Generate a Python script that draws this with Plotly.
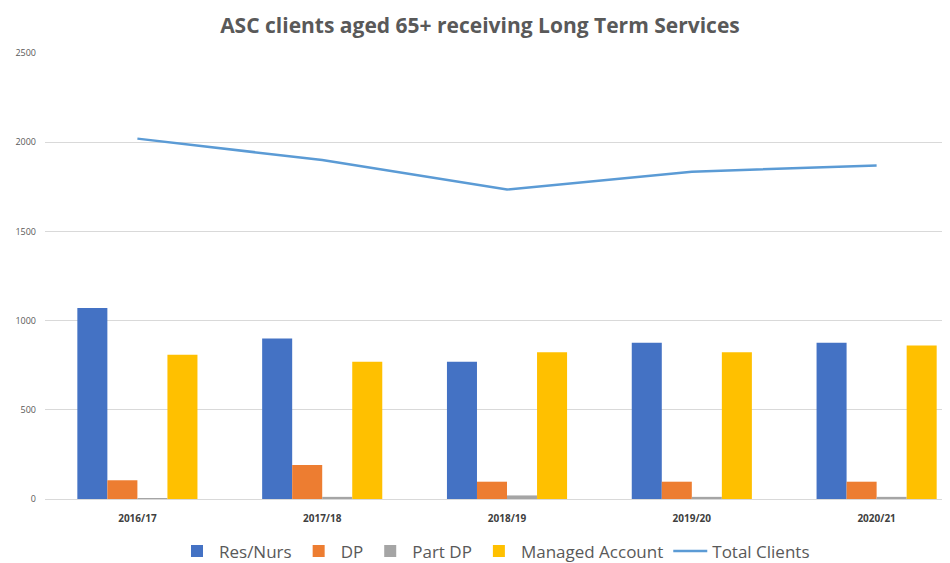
import plotly.graph_objects as go

years = ["2016/17", "2017/18", "2018/19", "2019/20", "2020/21"]
res_nurs = [1070, 900, 770, 876, 876]
dp = [105, 190, 97, 97, 97]
part_dp = [5, 12, 20, 12, 12]
managed = [808, 770, 822, 822, 861]
total_clients = [2020, 1900, 1735, 1835, 1870]

fig = go.Figure()
bar_series = [
    ("Res/Nurs", res_nurs, "#4472C4"),
    ("DP", dp, "#ED7D31"),
    ("Part DP", part_dp, "#A5A5A5"),
    ("Managed Account", managed, "#FFC000"),
]
for name, vals, col in bar_series:
    fig.add_trace(go.Bar(x=years, y=vals, name=name, marker=dict(color=col, line=dict(width=0))))

fig.add_trace(go.Scatter(x=years, y=total_clients, name="Total Clients", mode="lines",
                         line=dict(color="#5B9BD5", width=2.5)))

fig.update_layout(
    width=942, height=555,
    margin=dict(l=37, r=5, t=45, b=64, autoexpand=False),
    paper_bgcolor="white", plot_bgcolor="white",
    barmode="group", bargap=0.35, bargroupgap=0,
    title=dict(text="<b>ASC clients aged 65+ receiving Long Term Services</b>",
               x=0.501, xanchor="center", y=0.969, yanchor="middle",
               font=dict(family="Open Sans, Roboto, sans-serif", size=21, color="#595959")),
    font=dict(family="Open Sans, Roboto, sans-serif", color="#595959"),
    legend=dict(orientation="h", x=0.50, xanchor="center", yref="container", y=0.021, yanchor="middle",
                font=dict(size=17, color="#595959"), itemwidth=34, tracegroupgap=0),
    showlegend=True,
)
fig.update_xaxes(range=[-0.5, 4.37], showgrid=False, showline=True, linecolor="#D9D9D9",
                 linewidth=1, ticks="", tickfont=dict(size=10, color="#404040"),
                 tickprefix="<b>", ticksuffix="</b>", automargin=False, ticklabelstandoff=10)
fig.update_yaxes(range=[0, 2500], dtick=500, showgrid=True, gridcolor="#D9D9D9", gridwidth=1,
                 zeroline=False, showline=False, tickfont=dict(size=9, color="#595959"),
                 automargin=False, ticklabelstandoff=8)

fig.write_html("out.html")
